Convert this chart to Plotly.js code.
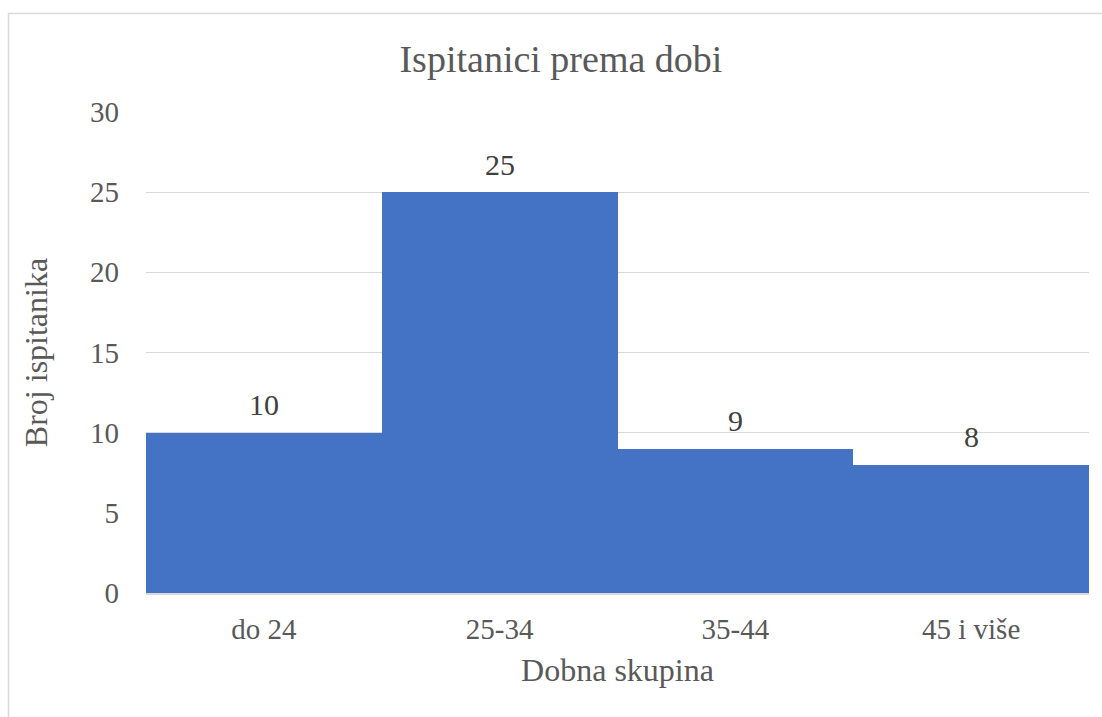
<!DOCTYPE html>
<html>
<head>
<meta charset="utf-8">
<script src="https://cdn.plot.ly/plotly-3.0.1.min.js"></script>
<style>html,body{margin:0;padding:0;background:#fff;}#chart{width:1102px;height:717px;}</style>
</head>
<body>
<div id="chart"></div>
<script>
const categories = ["do 24", "25-34", "35-44", "45 i više"];
const values = [10, 25, 9, 8];
const yTicks = [0, 5, 10, 15, 20, 25, 30];

const serif = '"Liberation Serif", "Times New Roman", serif';

const trace = {
  type: 'bar',
  x: categories,
  y: values,
  marker: {color: '#4472C4', line: {width: 0}},
  hoverinfo: 'x+y'
};

const annotations = categories.map((c, i) => ({
  x: c, y: values[i], xref: 'x', yref: 'y',
  text: String(values[i]), showarrow: false,
  yshift: 28, yanchor: 'middle',
  font: {family: serif, size: 30, color: '#404040'}
}));

const layout = {
  width: 1102, height: 717,
  margin: {l: 146, r: 13, t: 112, b: 124},
  paper_bgcolor: '#fff', plot_bgcolor: '#fff',
  bargap: 0,
  showlegend: false,
  font: {family: serif, color: '#595959'},
  title: {
    text: 'Ispitanici prema dobi',
    font: {family: serif, size: 38, color: '#595959'},
    x: 0.509, xref: 'container', xanchor: 'center',
    y: 0.918, yref: 'container', yanchor: 'middle'
  },
  xaxis: {
    type: 'category',
    showline: true, linecolor: '#d9d9d9', linewidth: 1.5,
    showgrid: false, ticks: '',
    tickfont: {family: serif, size: 29, color: '#595959'},
    ticklabelstandoff: 10,
    title: {text: 'Dobna skupina', font: {family: serif, size: 32, color: '#595959'}, standoff: 14}
  },
  yaxis: {
    range: [0, 30], tickvals: yTicks, ticktext: yTicks.map(String),
    showgrid: true, gridcolor: '#d9d9d9', gridwidth: 1.3,
    zeroline: false, showline: false, ticks: '',
    tickfont: {family: serif, size: 29, color: '#595959'},
    ticklabelstandoff: 26,
    title: {text: 'Broj ispitanika', font: {family: serif, size: 32, color: '#595959'}, standoff: 32}
  },
  annotations: annotations,
  shapes: [{
    type: 'rect', xref: 'paper', yref: 'paper',
    x0: -0.1458, x1: 1.02, y0: -0.27, y1: 1.2048,
    line: {color: '#d9d9d9', width: 1.5}, fillcolor: 'rgba(0,0,0,0)', layer: 'below'
  }]
};

Plotly.newPlot('chart', [trace], layout, {displayModeBar: false, staticPlot: true});
</script>
</body>
</html>
